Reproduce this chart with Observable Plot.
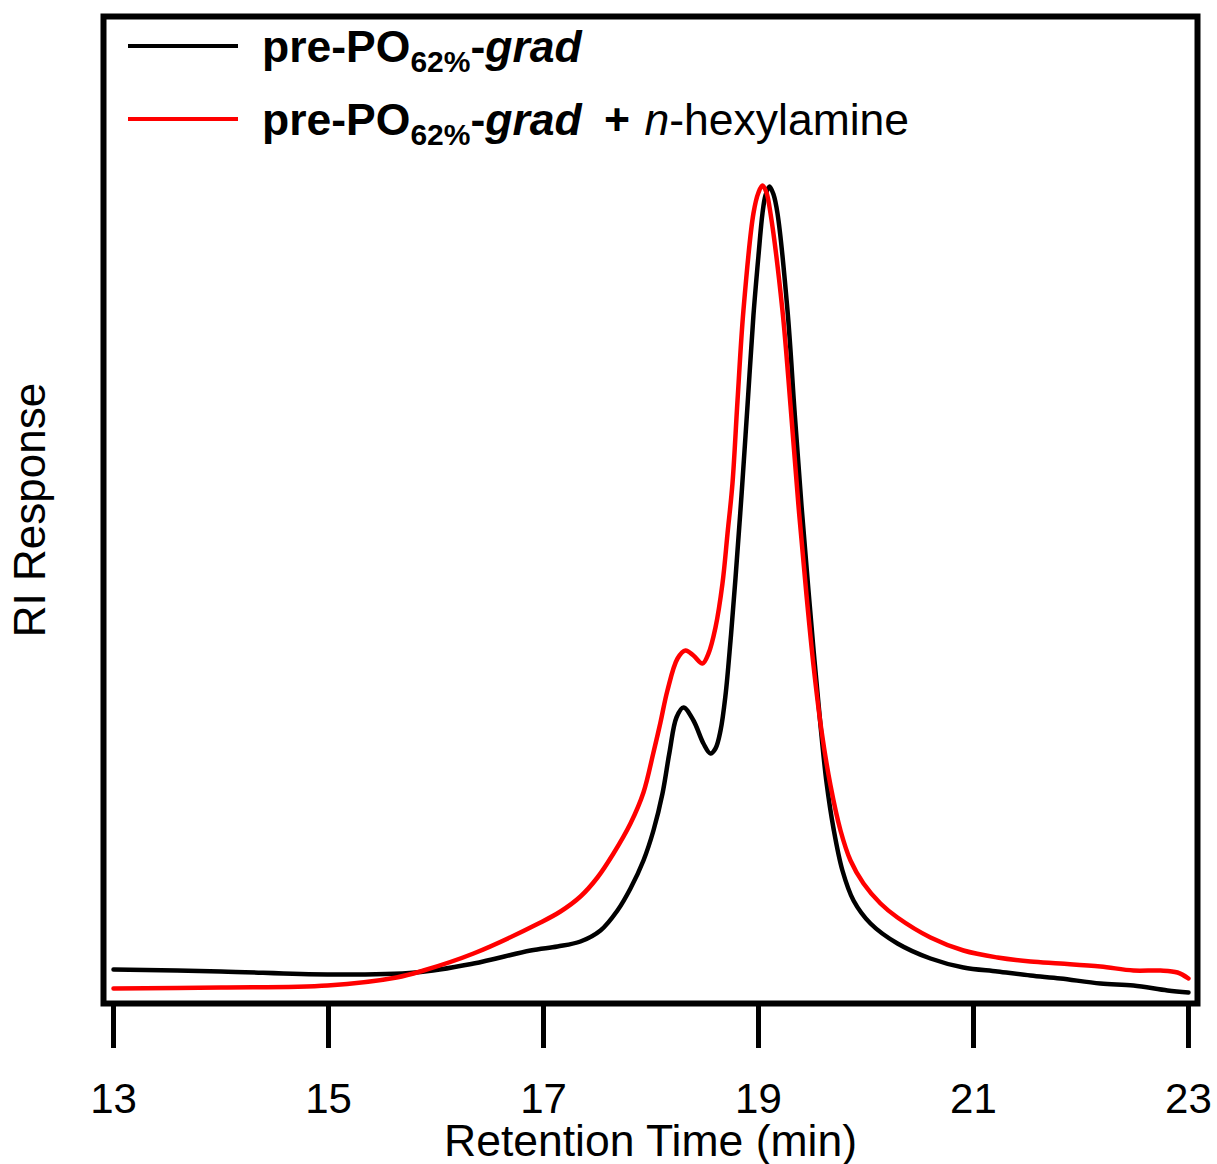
<!DOCTYPE html>
<html>
<head>
<meta charset="utf-8">
<script src="https://cdn.jsdelivr.net/npm/d3@7"></script>
<script src="https://cdn.jsdelivr.net/npm/@observablehq/plot@0.6"></script>
<style>
  html, body { margin: 0; padding: 0; background: #fff; }
  #wrap { position: relative; width: 1217px; height: 1164px; font-family: "Liberation Sans", Arial, sans-serif; }
  #wrap svg { font-family: "Liberation Sans", Arial, sans-serif; }
  .leg { position: absolute; left: 128px; top: 10px; font-size: 44.5px; color: #000; }
  .row { height: 73px; line-height: 73px; white-space: nowrap; }
  .sw { display: inline-block; width: 110px; height: 4px; vertical-align: middle; margin-right: 24px; position: relative; top: -4px; }
  .sub { font-size: 30px; position: relative; top: 10px; }
  .plus { margin-left: 10px; margin-right: 2px; }
</style>
</head>
<body>
<div id="wrap"></div>
<script>
// Tick labels
const xTicks = [13, 15, 17, 19, 21, 23];

// Series names
const seriesNames = ["pre-PO62%-grad", "pre-PO62%-grad + n-hexylamine"];
const seriesColors = ["#000000", "#ff0000"];

// pre-PO62%-grad (black)
const blackTime = [13.000, 14.000, 14.991, 15.809, 16.349, 16.879, 17.130, 17.344, 17.530, 17.688, 17.809, 17.930, 18.023, 18.107, 18.172, 18.237, 18.302, 18.395, 18.488, 18.553, 18.600, 18.647, 18.693, 18.740, 18.786, 18.842, 18.898, 18.953, 19.000, 19.037, 19.065, 19.102, 19.140, 19.177, 19.270, 19.335, 19.400, 19.465, 19.521, 19.577, 19.633, 19.698, 19.781, 19.884, 20.042, 20.293, 20.600, 20.907, 21.223, 21.530, 21.809, 22.181, 22.488, 22.805, 23.000];
const blackResponse = [32, 30, 27, 29, 38, 51, 55, 60, 71, 91, 113, 141, 171, 208, 249, 284, 294, 281, 258, 248, 253, 271, 306, 361, 423, 506, 596, 686, 746, 788, 806, 815, 807, 788, 691, 591, 496, 411, 341, 276, 219, 173, 131, 101, 78, 58, 43, 34, 30, 26, 23, 18, 16, 11, 9];

// pre-PO62%-grad + n-hexylamine (red)
const redTime = [13.000, 14.000, 14.991, 15.633, 15.884, 16.349, 16.972, 17.158, 17.344, 17.502, 17.651, 17.809, 17.930, 18.023, 18.088, 18.153, 18.247, 18.321, 18.395, 18.479, 18.535, 18.600, 18.665, 18.712, 18.758, 18.805, 18.860, 18.953, 19.000, 19.037, 19.074, 19.112, 19.223, 19.298, 19.372, 19.447, 19.512, 19.586, 19.670, 19.763, 19.856, 19.977, 20.135, 20.293, 20.600, 20.907, 21.223, 21.530, 21.809, 22.181, 22.488, 22.740, 22.898, 23.000];
const redResponse = [13, 14, 16, 24, 31, 48, 79, 90, 105, 124, 148, 178, 209, 249, 279, 311, 343, 351, 346, 338, 348, 374, 418, 468, 518, 601, 691, 788, 809, 816, 809, 788, 691, 596, 496, 406, 336, 271, 216, 171, 141, 118, 98, 84, 64, 51, 44, 40, 38, 35, 31, 31, 29, 23];

const blackData = blackTime.map((t, i) => ({t, r: blackResponse[i]}));
const redData = redTime.map((t, i) => ({t, r: redResponse[i]}));

const chart = Plot.plot({
  width: 1217,
  height: 1164,
  marginLeft: 103,
  marginRight: 20,
  marginTop: 16,
  marginBottom: 161,
  style: {fontFamily: '"Liberation Sans", Arial, sans-serif', color: "#000", background: "#fff"},
  x: {domain: [12.907, 23.084]},
  y: {domain: [-2, 985], axis: null},
  marks: [
    Plot.line(blackData, {x: "t", y: "r", stroke: seriesColors[0], strokeWidth: 4.5, curve: "catmull-rom", strokeLinejoin: "round"}),
    Plot.line(redData, {x: "t", y: "r", stroke: seriesColors[1], strokeWidth: 4.5, curve: "catmull-rom", strokeLinejoin: "round"}),
    Plot.frame({stroke: "#000", strokeWidth: 6}),
    Plot.axisX({
      ticks: xTicks,
      tickFormat: d => String(d),
      tickSize: 45,
      strokeWidth: 5,
      tickPadding: 35,
      fontSize: 42,
      label: null
    }),
    Plot.text(["Retention Time (min)"], {frameAnchor: "bottom", lineAnchor: "bottom", dy: 152, fontSize: 44.5, text: d => d}),
    Plot.text(["RI Response"], {frameAnchor: "left", textAnchor: "middle", rotate: -90, dx: -73, fontSize: 44, text: d => d})
  ]
});

const wrap = document.getElementById("wrap");
wrap.appendChild(chart);

const leg = document.createElement("div");
leg.className = "leg";
leg.innerHTML =
  `<div class="row"><span class="sw" style="background:${seriesColors[0]}"></span><b>pre-PO<span class="sub">62%</span>-<i>grad</i></b></div>` +
  `<div class="row"><span class="sw" style="background:${seriesColors[1]}"></span><b>pre-PO<span class="sub">62%</span>-<i>grad</i></b> <b class="plus">+</b> <i>n</i>-hexylamine</div>`;
wrap.appendChild(leg);
</script>
</body>
</html>
